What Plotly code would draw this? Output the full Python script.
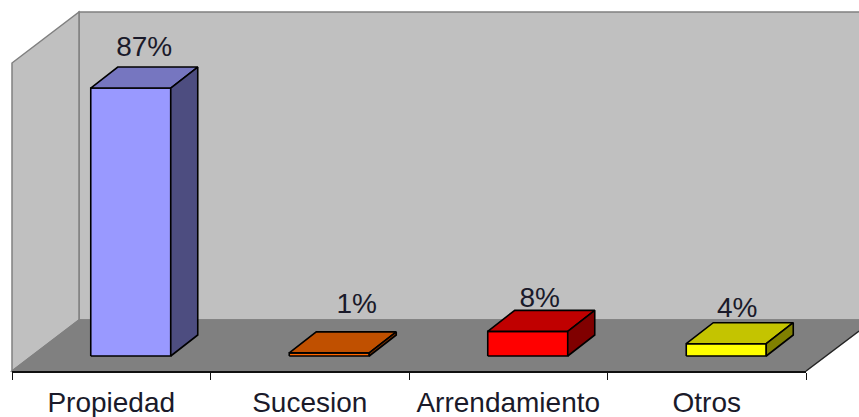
import plotly.graph_objects as go

categories = ["Propiedad", "Sucesion", "Arrendamiento", "Otros"]
values = [87, 1, 8, 4]
labels = ["87%", "1%", "8%", "4%"]
front_colors = ["#9999ff", "#ff6600", "#ff0000", "#ffff00"]
top_colors = ["#7676c0", "#c05000", "#c00000", "#c4c400"]
side_colors = ["#4d4d80", "#803300", "#800000", "#808000"]
label_shift_x = [0, 14, -1.5, -2.5]
label_lift_y = [18, 26, 10, 13]

W, H = 859, 417
PX_PER_VAL = 3.08
BASE_Y = 356
DX, DY = 27, 21
CAT_W = 198.5
LEFT = 12
BAR_W = 80
BAR_SHIFT = 19.5
FONT = "Liberation Sans, Arial, sans-serif"
TEXT = "#1a1a2a"


def cx(i):
    return LEFT + CAT_W * (i + 0.5) + BAR_SHIFT


def val(py):
    return (BASE_Y - py) / PX_PER_VAL


def poly(fig, xs, ys, fill, line="#000000"):
    fig.add_trace(go.Scatter(x=xs, y=ys, mode="lines", fill="toself", fillcolor=fill,
                             line=dict(color=line, width=1.6), hoverinfo="skip", showlegend=False))


fig = go.Figure()
dv = DY / PX_PER_VAL
for i, v in enumerate(values):
    x0, x1 = cx(i) - BAR_W / 2, cx(i) + BAR_W / 2
    poly(fig, [x0, x1, x1, x0, x0], [0, 0, v, v, 0], front_colors[i])
    poly(fig, [x0, x1, x1 + DX, x0 + DX, x0], [v, v, v + dv, v + dv, v], top_colors[i])
    poly(fig, [x1, x1 + DX, x1 + DX, x1, x1], [0, dv, v + dv, v, 0], side_colors[i])

fig.add_trace(go.Scatter(
    x=[cx(i) + DX / 2 + label_shift_x[i] for i in range(4)],
    y=[v + dv + label_lift_y[i] / PX_PER_VAL for i, v in enumerate(values)],
    mode="text", text=labels, textposition="middle center",
    textfont=dict(family=FONT, size=28, color=TEXT),
    hoverinfo="skip", showlegend=False))

# invisible carrier that gives the category axis its ticks and labels
fig.add_trace(go.Scatter(x=categories, y=values, xaxis="x2", mode="markers",
                         marker=dict(opacity=0), hoverinfo="skip", showlegend=False))

wall = "#c0c0c0"
floor = "#808080"
edge = "#808080"
shapes = []


def path(pts, fill, line):
    d = "M " + " L ".join(f"{x/W} {1-y/H}" for x, y in pts) + " Z"
    return dict(type="path", path=d, xref="paper", yref="paper", fillcolor=fill,
                line=dict(color=line, width=1.5), layer="below")


shapes.append(path([(79, 12), (862, 12), (862, 320), (79, 320)], wall, edge))
shapes.append(path([(12, 63), (79, 12), (79, 320), (12, 371)], wall, edge))
shapes.append(path([(12, 371), (79, 320), (859, 320), (859, 331), (806, 371)], floor, floor))
shapes.append(dict(type="line", xref="paper", yref="paper", x0=806/W, x1=859/W,
                   y0=1-371/H, y1=1-331/H, line=dict(color="#222222", width=1.2)))

fig.update_layout(
    width=W, height=H, margin=dict(l=0, r=0, t=0, b=0, autoexpand=False),
    paper_bgcolor="#ffffff", plot_bgcolor="rgba(0,0,0,0)", showlegend=False, shapes=shapes,
    xaxis=dict(visible=False, range=[0, W], domain=[0, 1], fixedrange=True),
    yaxis=dict(visible=False, range=[val(H), val(0)], domain=[0, 1], fixedrange=True),
    xaxis2=dict(type="category", categoryorder="array", categoryarray=categories,
                domain=[12 / W, 806 / W], range=[-0.5, 3.5], anchor="free", position=1 - 372 / H,
                showgrid=False, showline=True, linecolor="#111111", linewidth=1.5,
                ticks="outside", ticklen=7, tickcolor="#111111", tickson="boundaries",
                ticklabelstandoff=6, automargin=False,
                tickfont=dict(family=FONT, size=28, color=TEXT),
                fixedrange=True),
)
fig.write_html("out.html", config={"displayModeBar": False},
               post_script="document.body.style.margin='0';document.body.style.overflow='hidden';")
